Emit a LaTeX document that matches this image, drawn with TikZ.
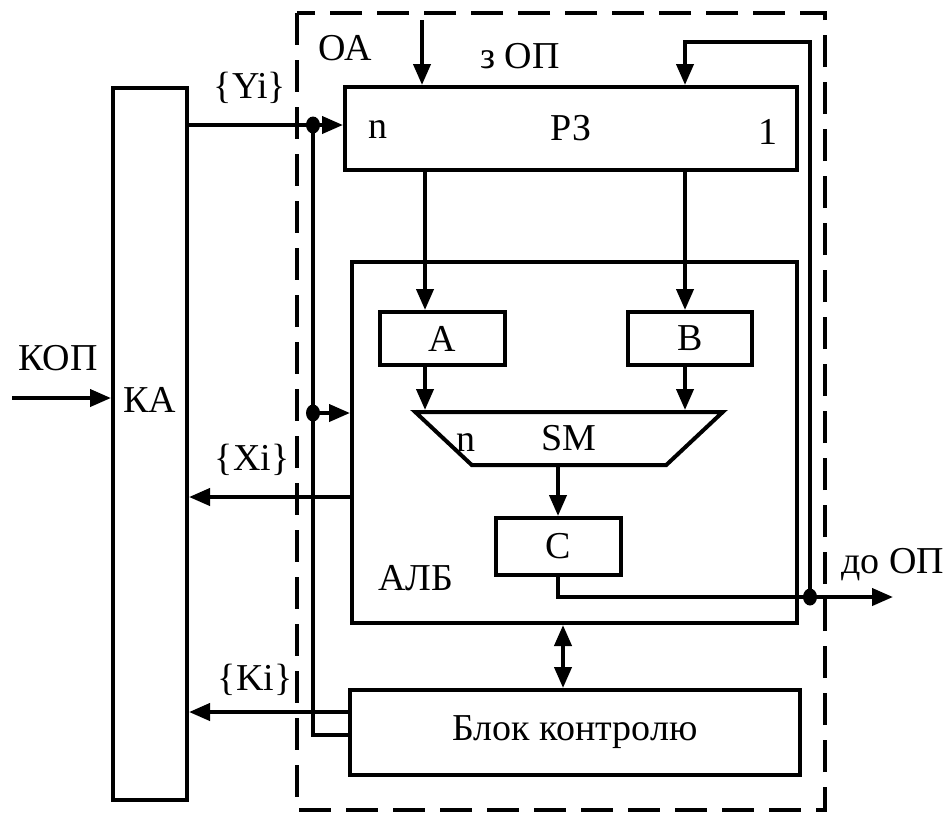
\documentclass[tikz,border=0pt]{standalone}
\usepackage{fontspec}
\setmainfont{Liberation Serif}
\usetikzlibrary{arrows.meta,positioning,calc,shapes.geometric}

\begin{document}
\begin{tikzpicture}[
  x=0.5pt, y=-0.5pt,
  font=\fontsize{19}{22}\selectfont,
  line width=2pt,
  >={Triangle[length=10.5pt,width=8.5pt]},
  blk/.style={draw, line width=2pt, inner sep=0pt},
  arrow/.style={->, line width=2pt},
  dot/.style={ellipse, fill, inner sep=0pt, minimum width=7pt, minimum height=8.5pt},
  lbl/.style={inner sep=0pt}
]
\useasboundingbox (0,0) rectangle (946,826);

% Operating unit frame
\draw[line width=2.2pt, dash pattern=on 16pt off 7.5pt] (297,13) rectangle (825,810);

% Blocks
\node[blk, minimum width=37pt, minimum height=356pt] (ka) at (150,444) {};
\node[blk, minimum width=226pt, minimum height=41.5pt] (rz) at (571,128.5) {РЗ};
\node[blk, minimum width=222.5pt, minimum height=180.5pt] (alb) at (574.5,442.5) {};
\node[blk, minimum width=62.5pt, minimum height=26.5pt] (a) at (442.5,338.5) {A};
\node[blk, minimum width=62pt, minimum height=26.5pt] (b) at (690,338.5) {B};
\node[blk, trapezium, shape border rotate=180, trapezium angle=58,
      trapezium stretches=true, minimum width=154pt, minimum height=26.5pt] (sm) at (569,438.5) {SM};
\node[blk, minimum width=62.5pt, minimum height=28.5pt] (c) at (558,546.5) {C};
\node[blk, minimum width=225pt, minimum height=42.5pt] (bk) at (575,732.5) {Блок контролю};

% Texts
\node[lbl] (katxt) at (150,400) {КА};
\node[lbl] (oatxt) at (345,48) {ОА};
\node[lbl] (zoptxt) at (520,56) {з ОП};
\node[lbl] (doptxt) at (893,565) {до ОП};
\node[lbl] (koptxt) at (58,358) {КОП};
\node[lbl] (yitxt) at (250,88) {\{Yi\}};
\node[lbl] (xitxt) at (252,460) {\{Xi\}};
\node[lbl] (kitxt) at (255,680) {\{Ki\}};
\node[lbl] (rzn) at (378,130) {n};
\node[lbl] (rz1) at (768,132) {1};
\node[lbl] (smn) at (466,443) {n};
\node[lbl] (albtxt) at (416,578) {АЛБ};

% Junctions and line positions
\coordinate (yi) at (313,125);
\coordinate (xin) at (313,413);
\coordinate (kbot) at (313,735);
\coordinate (xo) at (352,497);
\coordinate (ko) at (350,712);
\coordinate (kop) at (12,398);
\coordinate (zop) at (422,20);
\coordinate (fb) at (810,597);
\coordinate (fbtop) at (810,42);
\coordinate (dop) at (893,597);
\coordinate (la) at (425,0);
\coordinate (lb) at (685,0);
\coordinate (lm) at (563,0);

% Control unit links
\draw[arrow] (kop) -- (ka.west |- kop);
\draw[arrow] (ka.east |- yi) -- (rz.west |- yi);
\draw (yi) -- (kbot) -- (bk.west |- kbot);
\draw[arrow] (xin) -- (alb.west |- xin);
\draw[arrow] (alb.west |- xo) -- (ka.east |- xo);
\draw[arrow] (bk.west |- ko) -- (ka.east |- ko);
\node[dot] (yidot) at (yi) {};
\node[dot] (xidot) at (xin) {};

% Data paths
\draw[arrow] (zop) -- (rz.north -| zop);
\draw[arrow] (rz.south -| la) -- (a.north -| la);
\draw[arrow] (rz.south -| lb) -- (b.north -| lb);
\draw[arrow] (a.south -| la) -- (sm.north -| la);
\draw[arrow] (b.south -| lb) -- (sm.north -| lb);
\draw[arrow] (sm.south -| c) -- (c.north);
\draw[arrow] (c.south) |- (dop);
\draw[arrow] (fb) -- (fbtop) -| (rz.north -| lb);
\draw[<->] (alb.south -| lm) -- (bk.north -| lm);
\node[dot] (fbdot) at (fb) {};

\end{tikzpicture}
\end{document}
